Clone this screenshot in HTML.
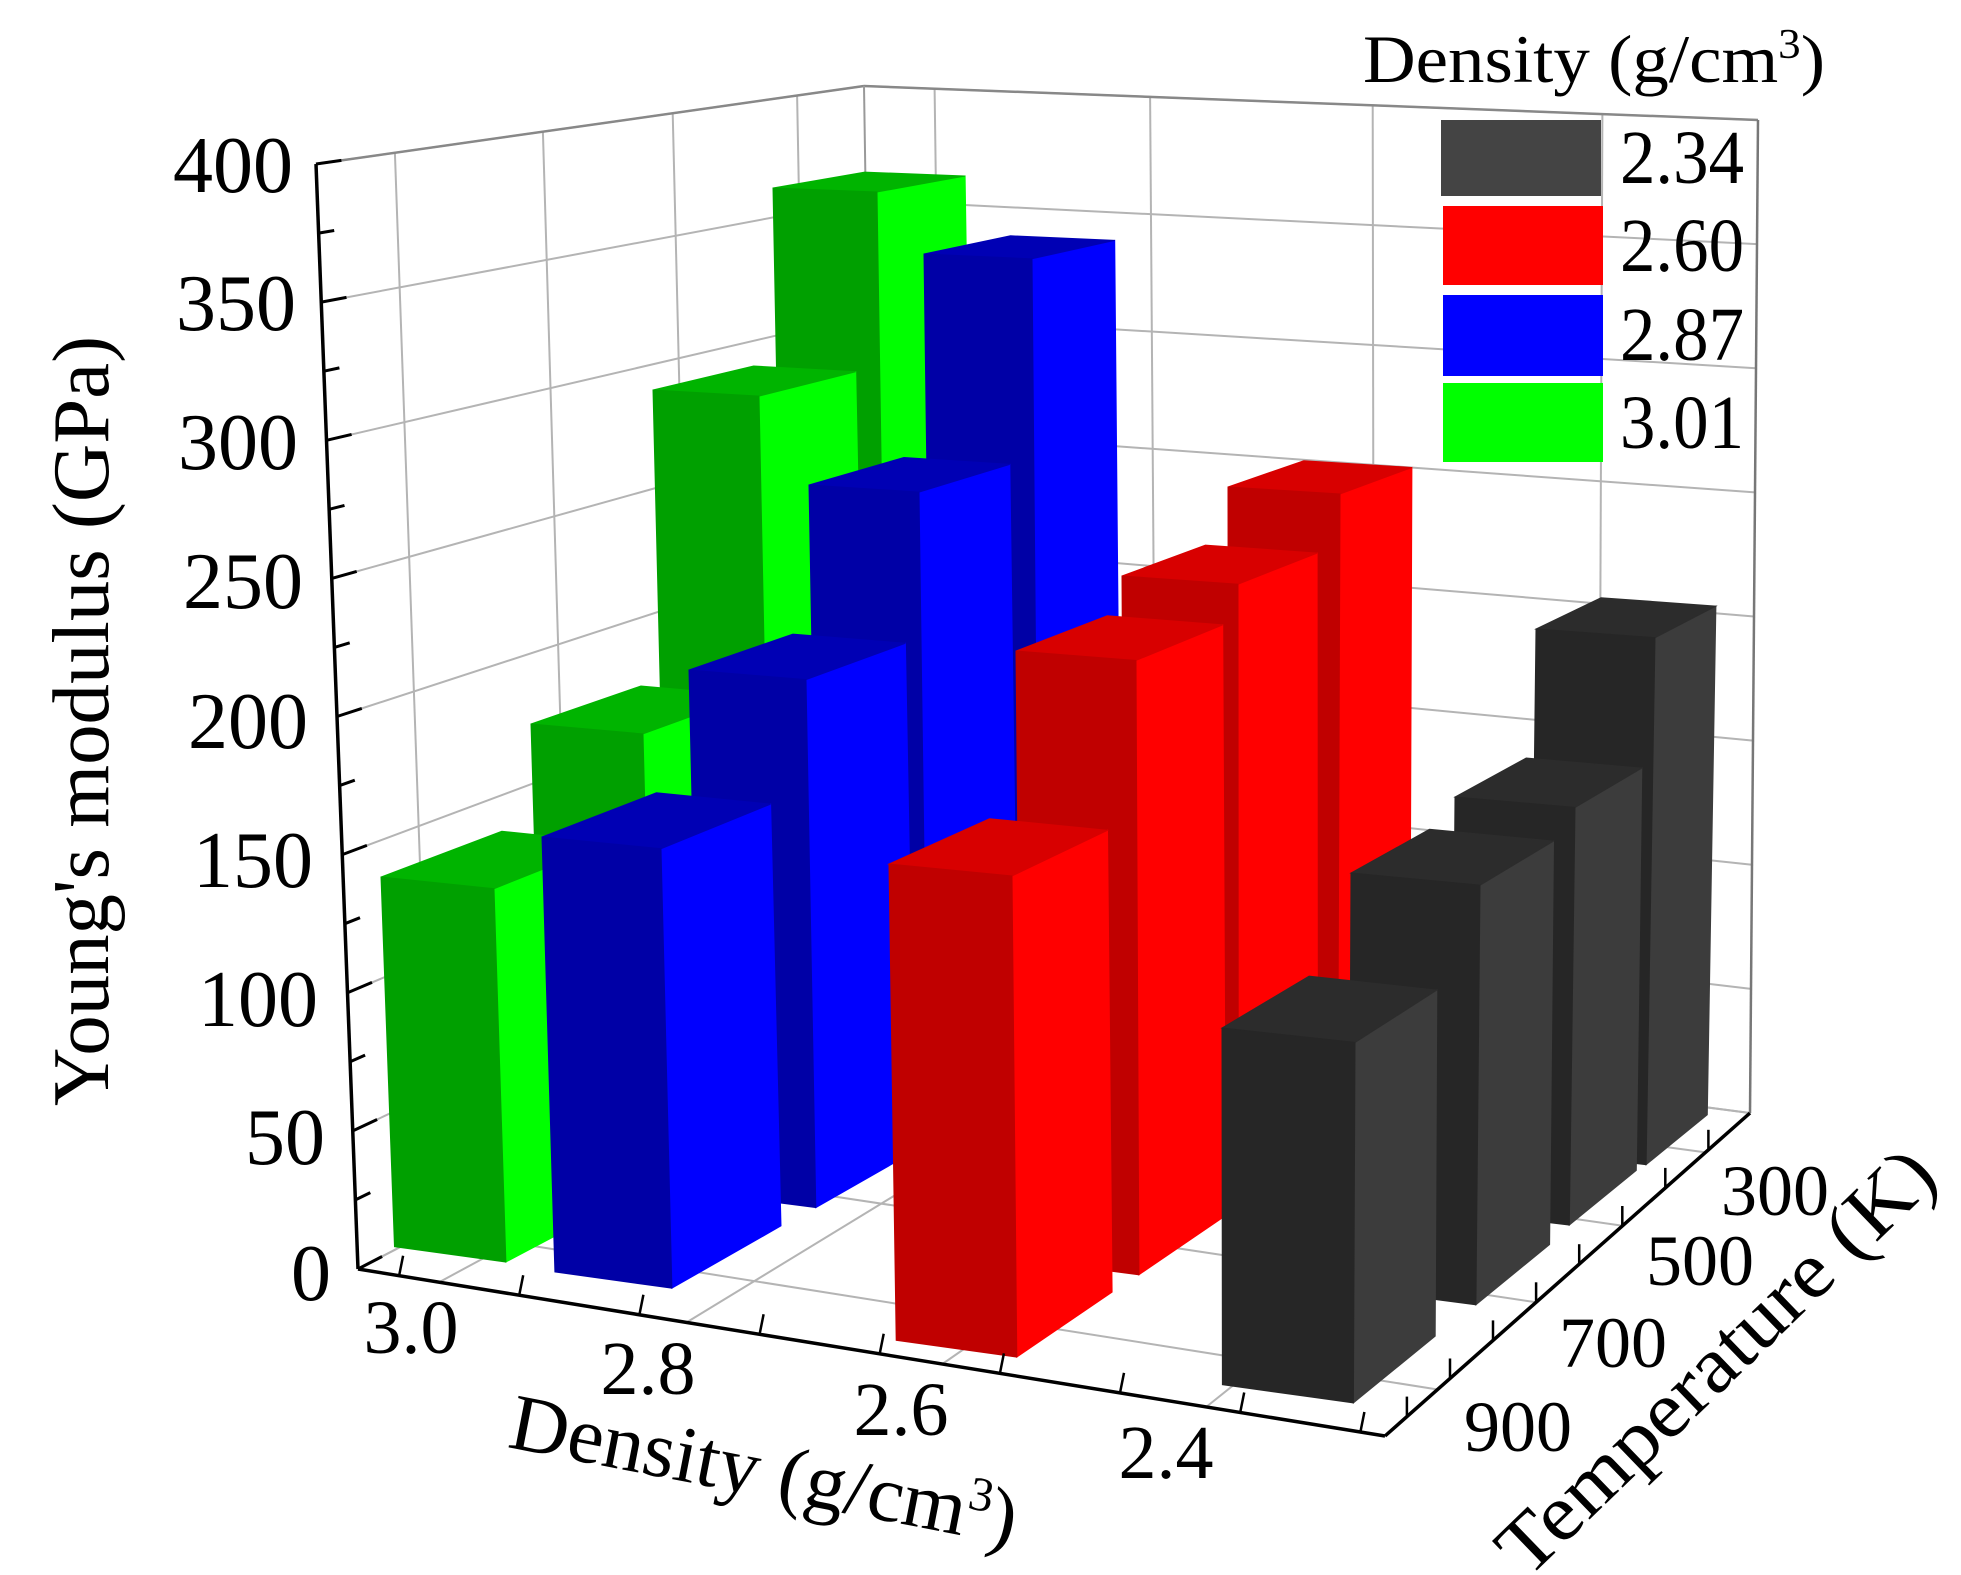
<!DOCTYPE html>
<html><head><meta charset="utf-8"><style>
html,body{margin:0;padding:0;background:#fff;}
svg{display:block;}
text{font-family:"Liberation Serif","DejaVu Serif",serif;fill:#000;}
</style></head><body>
<svg id="s" width="1961" height="1575" viewBox="0 0 1961 1575" xmlns="http://www.w3.org/2000/svg">
<g id="grid"></g>
<g id="bars"></g>
<g id="axes"></g>
<g font-size="80" text-anchor="end">
<text x="293" y="192">400</text>
<text x="296" y="330">350</text>
<text x="298" y="469">300</text>
<text x="303" y="608">250</text>
<text x="308" y="748">200</text>
<text x="313" y="887">150</text>
<text x="318" y="1026">100</text>
<text x="325" y="1164">50</text>
<text x="331" y="1300">0</text>
</g>
<g font-size="76" text-anchor="middle">
<text x="411" y="1353">3.0</text>
<text x="648" y="1394">2.8</text>
<text x="901" y="1435">2.6</text>
<text x="1166" y="1478">2.4</text>
</g>
<g font-size="72" text-anchor="middle">
<text x="1775" y="1215">300</text>
<text x="1700" y="1285">500</text>
<text x="1613" y="1367">700</text>
<text x="1518" y="1451">900</text>
</g>
<text transform="translate(108,721) rotate(-90)" font-size="80" text-anchor="middle" textLength="770" lengthAdjust="spacingAndGlyphs">Young's modulus (GPa)</text>
<text transform="translate(759,1496) rotate(11)" font-size="80" text-anchor="middle" textLength="515" lengthAdjust="spacingAndGlyphs">Density (g/cm<tspan font-size="48" dy="-28">3</tspan><tspan dy="28">)</tspan></text>
<text transform="translate(1734,1380) rotate(-44)" font-size="80" text-anchor="middle" textLength="575" lengthAdjust="spacingAndGlyphs">Temperature (K)</text>
<g transform="translate(-16,0)">
<text x="1379" y="82" font-size="68" textLength="462" lengthAdjust="spacingAndGlyphs">Density (g/cm<tspan font-size="42" dy="-24">3</tspan><tspan dy="24">)</tspan></text>
<rect x="1457" y="120" width="160" height="76" fill="#444"/>
<rect x="1459" y="206" width="160" height="79" fill="#ff0000"/>
<rect x="1459" y="295" width="160" height="81" fill="#0000ff"/>
<rect x="1459" y="383" width="160" height="79" fill="#00ff00"/>
<g font-size="76">
<text x="1636" y="183" textLength="124" lengthAdjust="spacingAndGlyphs">2.34</text>
<text x="1636" y="271" textLength="124" lengthAdjust="spacingAndGlyphs">2.60</text>
<text x="1636" y="360" textLength="124" lengthAdjust="spacingAndGlyphs">2.87</text>
<text x="1636" y="448" textLength="124" lengthAdjust="spacingAndGlyphs">3.01</text>
</g>
</g>
</svg>
<script>
(function(){
var NS="http://www.w3.org/2000/svg";
function el(p,t,a){var e=document.createElementNS(NS,t);for(var k in a)e.setAttribute(k,a[k]);p.appendChild(e);return e;}
function L(a,b,t){return [a[0]+(b[0]-a[0])*t,a[1]+(b[1]-a[1])*t];}
var A=[316,164],B=[358,1269],C=[864,86],D=[878,999],E=[1758,120],F=[1750,1113],G=[1385,1436];
var g=document.getElementById('grid'),ax=document.getElementById('axes'),bars=document.getElementById('bars');
function line(p,a,b,c,w){el(p,'line',{x1:a[0].toFixed(1),y1:a[1].toFixed(1),x2:b[0].toFixed(1),y2:b[1].toFixed(1),stroke:c,'stroke-width':w});}
var gc="#b4b4b4";
for(var v=0;v<=400;v+=50){var t=1-v/400;var p1=L(A,B,t),p2=L(C,D,t),p3=L(E,F,t);line(g,p1,p2,gc,2);line(g,p2,p3,gc,2);}
[0.144,0.414,0.651,0.878].forEach(function(t){line(g,L(A,C,t),L(B,D,t),gc,2);line(g,L(B,D,t),L(G,F,t),gc,2);});
[0.079,0.32,0.569,0.826].forEach(function(t){line(g,L(C,E,t),L(D,F,t),gc,2);line(g,L(D,F,t),L(B,G,t),gc,2);});
line(g,A,C,"#888",2.5);line(g,C,E,"#888",2.5);line(g,C,D,"#999",2);line(g,E,F,"#777",2.5);line(g,D,F,gc,2);line(g,B,D,gc,2);
var V=[3394,-265],V2=[-10500,-250],V3=[1250,24700];
var P={g:[392,1248],b:[555,1272],r:[892,1343],k:[1222,1385]};
var COL={g:["#00a000","#00ff00","#00b400"],b:["#0000a6","#0000ff","#0000b4"],r:["#c00000","#ff0000","#d80000"],k:["#262626","#3c3c3c","#2c2c2c"]};
var data=[
 [0,'g',773,188,877],[0,'b',924,254,1032],[0,'r',1228,487,1340],[0,'k',1536,629,1655],
 [1,'g',653,390,759],[1,'b',809,485,919],[1,'r',1122,576,1238],[1,'k',1455,797,1575],
 [2,'g',531,724,643],[2,'b',689,670,806],[2,'r',1016,651,1136],[2,'k',1351,873,1480],
 [3,'g',381,877,494],[3,'b',542,837,661],[3,'r',889,864,1012],[3,'k',1222,1028,1355]];
function poly(pts,c){el(bars,'polygon',{points:pts.map(function(p){return p[0].toFixed(1)+','+p[1].toFixed(1);}).join(' '),fill:c,stroke:c,'stroke-width':1});}
function toward(p,Q,f){return [p[0]+(Q[0]-p[0])*f,p[1]+(Q[1]-p[1])*f];}
data.forEach(function(d){
 var k=d[0],c=d[1],x1=d[2],yT=d[3],x2=d[4];
 var Pc=P[c];var m=(V[1]-Pc[1])/(V[0]-Pc[0]);
 var s=(V3[0]-x1)/(V3[1]-yT);
 var yB=Pc[1]+(x1-Pc[0])*m;
 for(var i=0;i<4;i++){var xb=x1+s*(yB-yT);yB=Pc[1]+(xb-Pc[0])*m;}
 var FLT=[x1,yT],FLB=[x1+s*(yB-yT),yB];
 var mt=(yT-V2[1])/(x1-V2[0]);var FRT=[x2,yT+(x2-x1)*mt];
 var s2=(V3[0]-x2)/(V3[1]-FRT[1]);
 var mb=(FLB[1]-V2[1])/(FLB[0]-V2[0]);
 var xbr=x2+s2*(FLB[1]-FRT[1]);var FRB=[xbr,FLB[1]+(xbr-FLB[0])*mb];
 xbr=x2+s2*(FRB[1]-FRT[1]);FRB=[xbr,FLB[1]+(xbr-FLB[0])*mb];
 var f=0.035+0.0017*k;
 var cc=COL[c];
 poly([FRT,FRB,toward(FRB,V,f),toward(FRT,V,f)],cc[1]);
 poly([FLT,FRT,toward(FRT,V,f),toward(FLT,V,f)],cc[2]);
 poly([FLT,FRT,FRB,FLB],cc[0]);
});
line(ax,A,B,"#000",3.5);line(ax,B,G,"#000",3.5);line(ax,G,F,"#000",3.5);
for(var v=0;v<=400;v+=25){var t=1-v/400;var p=L(A,B,t);var len=(v%50==0)?26:16;var q=L(p,L(C,D,t),len/560);line(ax,p,q,"#000",3);}
for(var i=0;i<=8;i++){var t=0.04+i*0.117;if(t>1)break;var p=L(B,G,t);line(ax,p,[p[0]+4,p[1]-20],"#000",2.5);}
for(var i=0;i<=8;i++){var t=0.06+i*0.118;if(t>1)break;var p=L(G,F,t);line(ax,p,[p[0],p[1]-20],"#000",2.5);}
})();
</script>
</body></html>
